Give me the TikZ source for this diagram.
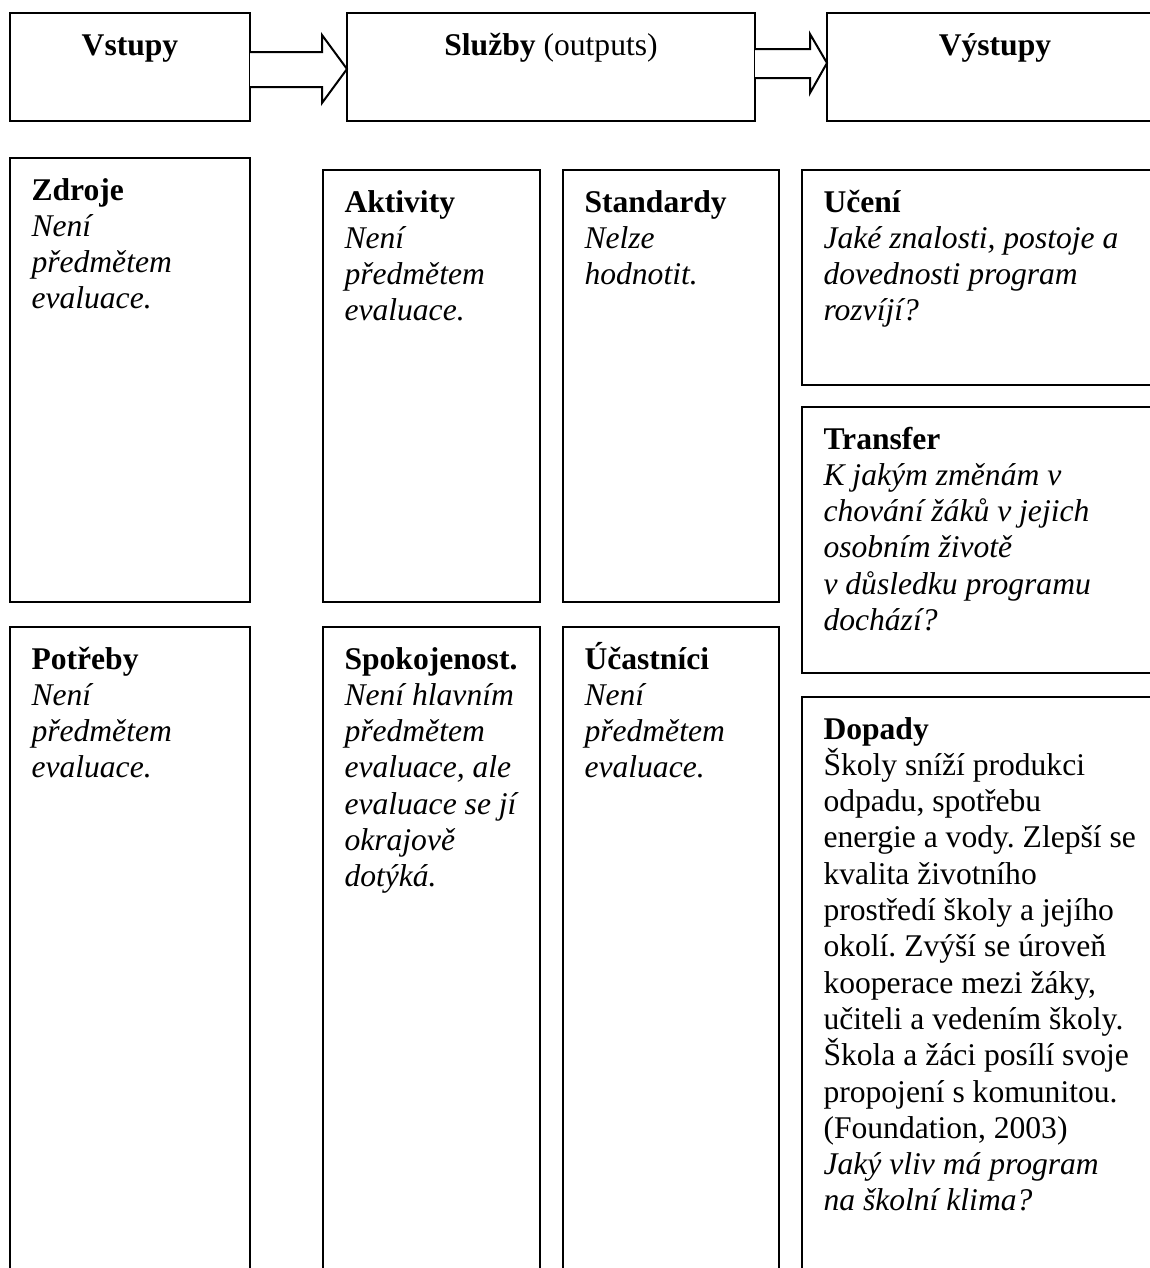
\documentclass[tikz,border=0pt]{standalone}
\usepackage{fontspec}
\setmainfont{Liberation Serif}
\usetikzlibrary{calc}

% one drawing unit
\newcommand\px{0.4pt}
% bold heading followed by the lines of a cell
\newcommand\celltext[2]{\parbox[t]{400pt}{\raggedright\lineskiplimit=-100pt\textbf{#1}\\#2}}
\frenchspacing

\tikzset{
  cell/.style={draw, line width=0.8pt, rectangle, inner sep=0pt, outer sep=0pt, anchor=north west},
  celllabel/.style={anchor=base west, inner sep=0pt},
  headtext/.style={anchor=base, inner sep=0pt},
  blockarrow/.style={draw, line width=0.8pt, fill=white, line join=miter},
}

\begin{document}
\begin{tikzpicture}[x=\px, y=-\px, font=\fontsize{12.64pt}{14.52pt}\selectfont]
\useasboundingbox (0,0) rectangle (1150,1268);
\fill[white] (0,0) rectangle (1150,1268);
\clip (0,0) rectangle (1150,1268);

% top row
\node[cell, minimum width=240*\px, minimum height=108*\px] (vst) at (10,13) {};
\node[cell, minimum width=408*\px, minimum height=108*\px] (slu) at (347,13) {};
\node[cell, minimum width=336*\px, minimum height=108*\px] (vys) at (827,13) {};

\node[headtext] (vstT) at ($(vst.north)+(0,42)$) {\textbf{Vstupy}};
\node[headtext] (sluT) at ($(slu.north)+(0,42)$) {\textbf{Služby} (outputs)};
\node[headtext] (vysT) at ($(vys.north)+(0,42)$) {\textbf{Výstupy}};

% block arrows between the top boxes
\draw[blockarrow] ($(vst.east)+(0,-15)$) -- ($(vst.east)+(72,-15)$) -- ($(vst.east)+(72,-32)$)
  -- ($(slu.west)+(0,2)$) -- ($(vst.east)+(72,36)$) -- ($(vst.east)+(72,20)$) -- ($(vst.east)+(0,20)$);
\draw[blockarrow] ($(slu.east)+(0,-18)$) -- ($(slu.east)+(55,-18)$) -- ($(slu.east)+(55,-33)$)
  -- ($(vys.west)+(0,-4)$) -- ($(slu.east)+(55,26)$) -- ($(slu.east)+(55,11)$) -- ($(slu.east)+(0,11)$);

% upper cells
\node[cell, minimum width=240*\px, minimum height=444*\px] (zdr) at (10,158) {};
\node[cell, minimum width=217*\px, minimum height=432*\px] (akt) at (323,170) {};
\node[cell, minimum width=216*\px, minimum height=432*\px] (std) at (563,170) {};
\node[cell, minimum width=361*\px, minimum height=215*\px] (uce) at (802,170) {};
\node[cell, minimum width=361*\px, minimum height=266*\px] (tra) at (802,407) {};

% lower cells
\node[cell, minimum width=240*\px, minimum height=700*\px] (pot) at (10,627) {};
\node[cell, minimum width=217*\px, minimum height=700*\px] (spo) at (323,627) {};
\node[cell, minimum width=216*\px, minimum height=700*\px] (uca) at (563,627) {};
\node[cell, minimum width=361*\px, minimum height=620*\px] (dop) at (802,697) {};

% cell texts
\node[celllabel] (zdrT) at ($(zdr.north west)+(21,42)$)
  {\celltext{Zdroje}{{\itshape Není\\předmětem\\evaluace.}}};
\node[celllabel] (aktT) at ($(akt.north west)+(21,42)$)
  {\celltext{Aktivity}{{\itshape Není\\předmětem\\evaluace.}}};
\node[celllabel] (stdT) at ($(std.north west)+(21,42)$)
  {\celltext{Standardy}{{\itshape Nelze\\hodnotit.}}};
\node[celllabel] (uceT) at ($(uce.north west)+(21,42)$)
  {\celltext{Učení}{{\itshape Jaké znalosti, postoje a\\dovednosti program\\rozvíjí?}}};
\node[celllabel] (traT) at ($(tra.north west)+(21,42)$)
  {\celltext{Transfer}{{\itshape K jakým změnám v\\chování žáků v jejich\\osobním životě\\v důsledku programu\\dochází?}}};
\node[celllabel] (potT) at ($(pot.north west)+(21,42)$)
  {\celltext{Potřeby}{{\itshape Není\\předmětem\\evaluace.}}};
\node[celllabel] (spoT) at ($(spo.north west)+(21,42)$)
  {\celltext{Spokojenost.}{{\itshape Není hlavním\\předmětem\\evaluace, ale\\evaluace se jí\\okrajově\\dotýká.}}};
\node[celllabel] (ucaT) at ($(uca.north west)+(21,42)$)
  {\celltext{Účastníci}{{\itshape Není\\předmětem\\evaluace.}}};
\node[celllabel] (dopT) at ($(dop.north west)+(21,42)$)
  {\celltext{Dopady}{Školy sníží produkci\\odpadu, spotřebu\\energie a vody. Zlepší se\\kvalita životního\\prostředí školy a jejího\\okolí. Zvýší se úroveň\\kooperace mezi žáky,\\učiteli a vedením školy.\\Škola a žáci posílí svoje\\propojení s komunitou.\\(Foundation, 2003)\\{\itshape Jaký vliv má program\\na školní klima?}}};
\end{tikzpicture}
\end{document}
